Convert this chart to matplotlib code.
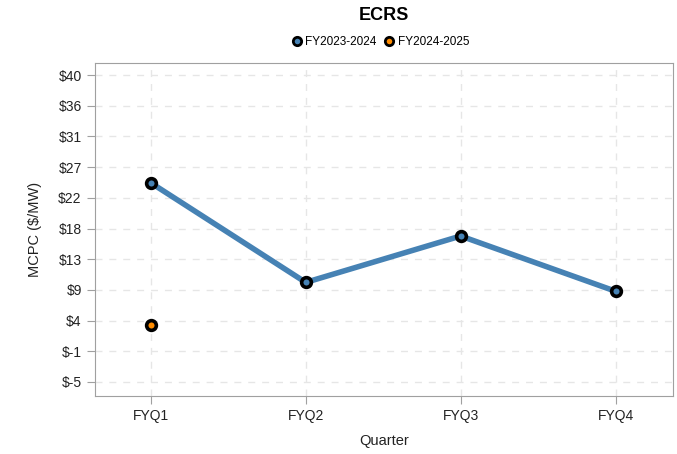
import numpy as np
import matplotlib
matplotlib.use("Agg")
import matplotlib.pyplot as plt

quarters = ["FYQ1", "FYQ2", "FYQ3", "FYQ4"]
fy2324 = [24.2, 9.6, 16.4, 8.3]
fy2425 = [3.4]
series_names = ["FY2023-2024", "FY2024-2025"]
ytick_vals = np.linspace(-5, 40, 11)
ytick_labels = ["$-5", "$-1", "$4", "$9", "$13", "$18", "$22", "$27", "$31", "$36", "$40"]

plt.rcParams['font.family'] = ['Liberation Sans', 'DejaVu Sans']

fig = plt.figure(figsize=(6.77, 4.54), dpi=100)
ax = fig.add_axes([0.1403, 0.1278, 0.8537, 0.7334])

x = np.arange(len(quarters))
ax.plot(x, fy2324, color="#4682b4", lw=4, zorder=3)
ax.plot(x, fy2324, ls="none", marker="o", ms=7, mfc="#4682b4", mec="black", mew=2.6, zorder=4)
ax.plot(x[:len(fy2425)], fy2425, ls="none", marker="o", ms=7, mfc="#ff8c00", mec="black", mew=2.6, zorder=4)

ax.set_xlim(-0.36, 3.37)
ax.set_ylim(-7.05, 41.76)
ax.set_xticks(x)
ax.set_xticklabels(quarters)
ax.set_yticks(ytick_vals)
ax.set_yticklabels([s.replace("$", r"\$") for s in ytick_labels])
ax.grid(True, ls=(0, (5, 5)), color="#e6e6e6", lw=1)
ax.set_axisbelow(True)
for s in ax.spines.values():
    s.set_color("#a0a0a0")
ax.tick_params(colors="#a0a0a0", labelcolor="#222222", labelsize=10, length=6)
ax.set_xlabel("Quarter", fontsize=10.5, color="#222222", labelpad=8)
ax.set_ylabel(r"MCPC (\$/MW)", fontsize=10.5, color="#222222", labelpad=12)

fig.text(0.567, 0.965, "ECRS", ha="center", va="center", fontsize=13, fontweight="bold")

handles = [
    plt.Line2D([], [], ls="none", marker="o", ms=6, mfc="#4682b4", mec="black", mew=2),
    plt.Line2D([], [], ls="none", marker="o", ms=6, mfc="#ff8c00", mec="black", mew=2),
]
fig.legend(handles, series_names, loc="center", bbox_to_anchor=(0.563, 0.907), ncol=2,
           frameon=False, fontsize=8.5, handlelength=0.6, handletextpad=0.4, columnspacing=0.8)

fig.savefig("out.png", dpi=100)
